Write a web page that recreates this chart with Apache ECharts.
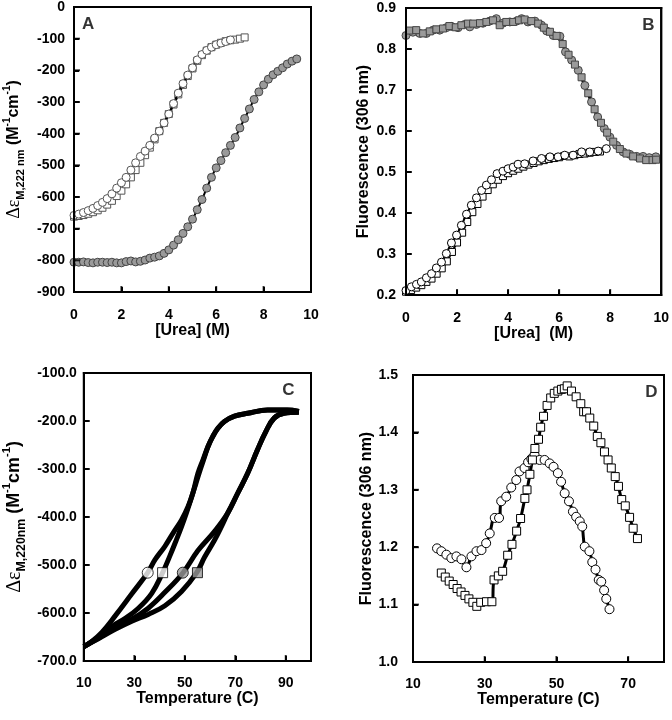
<!DOCTYPE html>
<html><head><meta charset="utf-8">
<script src="https://cdn.jsdelivr.net/npm/echarts@6/dist/echarts.min.js"></script>
<style>html,body{margin:0;padding:0;background:#fff}#c{width:672px;height:720px}</style>
</head><body><div id="c"></div>
<script>
// ---------- Panel A: CD vs urea ----------
const aOpenCircX = [0,0.2,0.4,0.6,0.8,1.0,1.2,1.4,1.6,1.8,2.0,2.2,2.4,2.6,2.8,3.0,3.2,3.4,3.6,3.8,4.0,4.2,4.4,4.6,4.8,5.0,5.2,5.4,5.6,5.8,6.0,6.2,6.4,6.6];
const aOpenCircY = [-658,-654,-649,-643,-636,-627,-617,-605,-590,-572,-555,-538,-515,-492,-472,-455,-437,-414,-392,-366,-338,-305,-272,-242,-215,-192,-167,-150,-137,-127,-119,-114,-109,-104];
const aOpenSqX = [0,0.2,0.4,0.6,0.8,1.0,1.2,1.4,1.6,1.8,2.0,2.2,2.4,2.6,2.8,3.0,3.2,3.4,3.6,3.8,4.0,4.2,4.4,4.6,4.8,5.0,5.2,5.4,5.6,5.8,6.0,6.2,6.4,6.6,6.8,7.0,7.2];
const aOpenSqY = [-662,-660,-657,-653,-648,-642,-634,-624,-612,-597,-580,-560,-538,-515,-492,-468,-444,-418,-392,-366,-338,-308,-276,-246,-218,-194,-170,-152,-138,-127,-119,-113,-108,-105,-103,-100,-96];
const aGrayX = [0,0.2,0.4,0.6,0.8,1.0,1.2,1.4,1.6,1.8,2.0,2.2,2.4,2.6,2.8,3.0,3.2,3.4,3.6,3.8,4.0,4.2,4.4,4.6,4.8,5.0,5.2,5.4,5.6,5.8,6.0,6.2,6.4,6.6,6.8,7.0,7.2,7.4,7.6,7.8,8.0,8.2,8.4,8.6,8.8,9.0,9.2,9.4];
const aGrayY = [-806,-806,-805,-807,-808,-806,-806,-807,-806,-808,-808,-804,-802,-805,-803,-799,-793,-790,-786,-778,-767,-752,-735,-715,-694,-670,-640,-608,-572,-538,-508,-485,-460,-437,-412,-382,-352,-322,-292,-268,-246,-228,-214,-203,-192,-180,-171,-164];

// ---------- Panel B: fluorescence vs urea ----------
const bGrayCircX = [0,0.27,0.54,0.8,1.06,1.32,1.58,1.78,2.04,2.3,2.5,2.76,3.02,3.28,3.54,3.8,4.07,4.33,4.53,4.78,5.05,5.31,5.51,5.77,6.03,6.25,6.49,6.75,7.01,7.27,7.51,7.77,7.99,8.25,8.51,8.77,9.04,9.29,9.53,9.79];
const bGrayCircY = [0.833,0.841,0.838,0.838,0.846,0.846,0.852,0.855,0.852,0.860,0.854,0.860,0.863,0.868,0.874,0.863,0.866,0.868,0.874,0.866,0.868,0.858,0.844,0.833,0.831,0.793,0.773,0.748,0.711,0.671,0.634,0.606,0.585,0.565,0.549,0.543,0.538,0.538,0.535,0.537];
const bGraySqX = [0.13,0.4,0.67,0.93,1.19,1.45,1.7,1.95,2.17,2.43,2.63,2.9,3.15,3.41,3.67,3.93,4.2,4.43,4.65,4.91,5.18,5.4,5.64,5.9,6.14,6.37,6.62,6.88,7.14,7.39,7.64,7.88,8.12,8.38,8.64,8.9,9.17,9.41,9.66,9.8];
const bGraySqY = [0.845,0.846,0.838,0.843,0.848,0.850,0.856,0.853,0.858,0.862,0.862,0.863,0.866,0.870,0.858,0.866,0.866,0.870,0.872,0.868,0.862,0.852,0.842,0.832,0.812,0.786,0.762,0.731,0.692,0.653,0.620,0.596,0.574,0.556,0.545,0.538,0.533,0.529,0.529,0.530];
const bOpenCircX = [0,0.21,0.41,0.6,0.8,1.0,1.19,1.39,1.58,1.78,1.98,2.17,2.37,2.56,2.76,2.96,3.15,3.35,3.57,3.8,4.0,4.2,4.39,4.65,4.98,5.31,5.64,5.96,6.22,6.55,6.88,7.2,7.53,7.85];
const bOpenCircY = [0.211,0.220,0.226,0.232,0.242,0.252,0.266,0.280,0.301,0.327,0.346,0.370,0.397,0.419,0.437,0.455,0.468,0.481,0.496,0.502,0.508,0.512,0.519,0.520,0.527,0.533,0.537,0.537,0.541,0.541,0.549,0.549,0.551,0.557];
const bOpenSqX = [0,0.2,0.4,0.6,0.8,1.0,1.2,1.4,1.6,1.8,2.0,2.2,2.4,2.6,2.8,3.0,3.2,3.4,3.6,3.8,4.0,4.2,4.4,4.6,4.8,5.0,5.2,5.4,5.6,5.8,6.0,6.2,6.4,6.6,6.8,7.0,7.2,7.4,7.6];
const bOpenSqY = [0.208,0.212,0.218,0.224,0.232,0.240,0.252,0.265,0.282,0.305,0.328,0.352,0.378,0.402,0.422,0.440,0.456,0.470,0.481,0.490,0.497,0.503,0.508,0.513,0.518,0.522,0.526,0.529,0.532,0.534,0.536,0.539,0.538,0.541,0.544,0.545,0.547,0.549,0.550];

// ---------- Panel C: CD thermal scans ----------
const cCurve1T = [10,13,17.2,22.4,29,35.3,38.2,42.1,45.4,48.7,51.3,53.2,55.2,57.2,59.2,61.1,63.1,65.7,69.7,74.9,82.8,90.6,95.2];
const cCurve1V = [-670,-660,-640,-606,-560,-516,-489,-461,-433,-406,-378,-350,-309,-281,-253,-232,-215,-201,-190,-184,-177,-177,-180];
const cCurve2T = [10,15.9,21.1,26.4,31.6,36.9,41.2,44,46.7,48.7,50.6,52.6,54.4,56.2,57.8,59.2,61.1,63.1,65.7,69.7,74.9,82.8,90.6,95.2];
const cCurve2V = [-670,-650,-628,-611,-590,-559,-516,-482,-447,-420,-392,-360,-330,-300,-275,-253,-232,-215,-201,-190,-184,-177,-177,-180];
const cCurve3T = [10,15.9,22.4,29,35.5,42.1,49.3,55.2,61.8,67,71,74.9,78.8,82.1,85.4,89.3,95.2];
const cCurve3V = [-670,-652,-630,-613,-590,-557,-516,-470,-430,-392,-350,-309,-260,-222,-194,-184,-182];
const cCurve4T = [10,15.9,22.4,29,35.5,42.1,48.7,54.7,57.8,61.8,64.5,67,71,74.9,78.8,82.1,85.4,89.3,95.2];
const cCurve4V = [-670,-653,-634,-617,-603,-585,-555,-516,-484,-448,-420,-392,-350,-309,-260,-222,-194,-184,-182];
const cMarkT = [35.3,41.2,49.2,55.0];
const cMarkV = [-516,-516,-516,-516];

// ---------- Panel D: fluorescence thermal scans ----------
const dCircT = [16.7,17.9,19.3,20.7,22.1,23.5,24.9,26.3,27.7,29.1,30.4,31.4,32.8,34.0,34.6,36.0,37.4,38.8,39.7,41.1,42.1,43.0,43.9,45.3,46.7,48.1,49.2,50.4,51.3,52.3,53.5,54.6,55.5,56.5,57.2,57.9,59.2,60.0,60.9,61.8,62.5,63.3,63.9,64.8];
const dCircV = [1.198,1.193,1.187,1.181,1.184,1.179,1.165,1.184,1.193,1.195,1.207,1.224,1.251,1.251,1.280,1.288,1.304,1.317,1.332,1.338,1.348,1.354,1.361,1.352,1.352,1.346,1.340,1.329,1.314,1.294,1.280,1.262,1.253,1.245,1.236,1.201,1.193,1.174,1.161,1.143,1.140,1.125,1.110,1.092];
const dSqT = [17.9,19.0,20.1,21.2,22.3,23.4,24.5,25.6,26.7,27.8,28.9,30.5,32.0,32.6,33.8,35.0,36.4,37.6,38.9,40.0,41.2,41.8,42.6,43.3,44.0,45.0,45.6,46.4,47.4,48.4,49.4,50.4,51.4,52.2,53.0,54.2,55.5,56.8,57.6,58.4,59.3,60.4,61.4,62.4,63.4,64.4,65.3,66.4,67.3,68.2,69.2,70.4,71.4,72.6];
const dSqV = [1.155,1.148,1.141,1.135,1.128,1.122,1.116,1.110,1.104,1.097,1.104,1.105,1.105,1.143,1.150,1.158,1.186,1.205,1.228,1.250,1.285,1.300,1.327,1.352,1.372,1.388,1.409,1.428,1.447,1.460,1.468,1.472,1.475,1.476,1.481,1.472,1.462,1.450,1.436,1.436,1.425,1.411,1.393,1.382,1.366,1.352,1.338,1.323,1.306,1.283,1.272,1.252,1.233,1.215];

// ---------- axis ranges (min, max, tick interval) ----------
const xRanges = [[0, 10, 2], [0, 10, 2], [10, 100, 20], [10, 80, 20]];
const yRanges = [[-900, 0, 100], [0.2, 0.9, 0.1], [-700, -100, 100], [1.0, 1.5, 0.1]];
const panelLetters = ['A', 'B', 'C', 'D'];

const zip = (xs, ys) => xs.map((x, i) => [x, ys[i]]);
const FONT = 'Liberation Sans';
const GRAY = '#9a9a9a';

const grids = [
  { left: 74, top: 6, width: 237, height: 286 },
  { left: 406, top: 8, width: 257, height: 287 },
  { left: 82, top: 373, width: 229, height: 288 },
  { left: 413, top: 375, width: 251, height: 287 }
].map(g => Object.assign({ show: true, borderColor: '#000', borderWidth: 2, backgroundColor: 'rgba(0,0,0,0)' }, g));

function axisBase(extra) {
  return Object.assign({
    type: 'value',
    axisLine: { show: true, onZero: false, lineStyle: { color: '#000', width: 2 } },
    axisTick: { show: true, inside: true, length: 5, lineStyle: { color: '#000', width: 2 } },
    splitLine: { show: false },
    nameTextStyle: { color: '#000', fontFamily: FONT, fontWeight: 'bold', fontSize: 16 }
  }, extra);
}
function lbl(fmt, margin, extra) {
  return Object.assign({ color: '#000', fontFamily: FONT, fontWeight: 'bold', fontSize: 14, margin: margin, formatter: fmt }, extra || {});
}
const f1 = v => Number(v).toFixed(1);
const f0 = v => String(Math.round(v));

function richY(scale) {
  return {
    d: { fontFamily: 'Liberation Serif', fontSize: 18 * scale, color: '#000', lineHeight: 24 * scale, verticalAlign: 'middle' },
    sub: { fontFamily: FONT, fontWeight: 'bold', fontSize: 11 * scale, color: '#000', lineHeight: 24 * scale, verticalAlign: 'bottom' },
    p: { fontFamily: FONT, fontWeight: 'bold', fontSize: 16 * scale, color: '#000', lineHeight: 24 * scale, verticalAlign: 'middle' },
    sup: { fontFamily: FONT, fontWeight: 'bold', fontSize: 10 * scale, color: '#000', lineHeight: 24 * scale, verticalAlign: 'top' }
  };
}

function symSeries(data, symbol, fill, border, size, lineW, gi, z) {
  return {
    type: 'line', data: data, xAxisIndex: gi, yAxisIndex: gi,
    smooth: 0.4, showSymbol: true, showAllSymbol: true, symbol: symbol, symbolSize: size,
    itemStyle: { color: fill, borderColor: border, borderWidth: 1 },
    lineStyle: { color: '#000', width: lineW }, z: z || 2, silent: true
  };
}
function curve(data) {
  return { type: 'line', data: data, xAxisIndex: 2, yAxisIndex: 2, smooth: 0.4, showSymbol: false,
    lineStyle: { color: '#000', width: 5 }, z: 2, silent: true };
}

// Frame box drawn by a custom series through each panel's own axes (api.coord)
function frameCustom(i) {
  const xr = xRanges[i], yr = yRanges[i];
  return {
    type: 'custom', xAxisIndex: i, yAxisIndex: i, silent: true, clip: false, z: 30,
    data: [[xr[0], yr[0], xr[1], yr[1]]],
    renderItem: function (params, api) {
      const p0 = api.coord([api.value(0), api.value(3)]);
      const p1 = api.coord([api.value(2), api.value(1)]);
      const w = p1[0] - p0[0], h = p1[1] - p0[1];
      return {
        type: 'group',
        children: [
          { type: 'rect', shape: { x: p0[0] - 1, y: p0[1] - 1, width: w + 2, height: 2 }, style: { fill: '#000' } },
          { type: 'rect', shape: { x: p0[0] - 1, y: p1[1] - 1, width: w + 2, height: 2 }, style: { fill: '#000' } },
          { type: 'rect', shape: { x: p0[0] - 1, y: p0[1] - 1, width: 2, height: h + 2 }, style: { fill: '#000' } },
          { type: 'rect', shape: { x: p1[0] - 1, y: p0[1] - 1, width: 2, height: h + 2 }, style: { fill: '#000' } }
        ]
      };
    }
  };
}

// Inward ticks as small bar symbols on each panel's axes
function tickSeries(i) {
  const xr = xRanges[i], yr = yRanges[i];
  const base = { type: 'scatter', xAxisIndex: i, yAxisIndex: i, silent: true, clip: false, z: 20,
    itemStyle: { color: '#000', borderWidth: 0 } };
  const xTicks = [], yTicks = [];
  const nx = Math.round((xr[1] - xr[0]) / xr[2]);
  for (let k = 1; k <= nx; k++) {
    const t = xr[0] + k * xr[2];
    if (t < xr[1] - 1e-9) xTicks.push([t, yr[0]]);
  }
  const ny = Math.round((yr[1] - yr[0]) / yr[2]);
  for (let k = 1; k < ny; k++) yTicks.push([xr[0], yr[0] + k * yr[2]]);
  return [
    Object.assign({}, base, { data: xTicks, symbol: 'rect', symbolSize: [2, 6], symbolOffset: [0, -3] }),
    Object.assign({}, base, { data: yTicks, symbol: 'rect', symbolSize: [6, 2], symbolOffset: [3, 0] })
  ];
}

const markSymbols = ['circle', 'rect', 'circle', 'rect'];
const markFills = ['#fff', '#fff', GRAY, GRAY];
const markSeries = cMarkT.map((t, i) => ({
  type: 'scatter', data: [[t, cMarkV[i]]], xAxisIndex: 2, yAxisIndex: 2,
  symbol: markSymbols[i], symbolSize: i % 2 ? 10 : 11,
  itemStyle: { color: markFills[i], borderColor: '#000', borderWidth: 1 }, z: 5, silent: true
}));

const letterPos = [[0.06, 0.94], [0.95, 0.94], [0.9, 0.94], [0.95, 0.94]];
const letterSeries = panelLetters.map((L, i) => {
  const xr = xRanges[i], yr = yRanges[i];
  return {
    type: 'scatter', xAxisIndex: i, yAxisIndex: i, symbolSize: 0, silent: true, z: 20,
    data: [[xr[0] + letterPos[i][0] * (xr[1] - xr[0]), yr[0] + letterPos[i][1] * (yr[1] - yr[0])]],
    label: { show: true, position: 'inside', formatter: L, color: '#000', fontFamily: FONT, fontWeight: 'bold', fontSize: 17 }
  };
});

const option = {
  animation: false,
  backgroundColor: '#fff',
  grid: grids,
  xAxis: [
    axisBase({ gridIndex: 0, min: xRanges[0][0], max: xRanges[0][1], interval: xRanges[0][2],
      axisLabel: lbl(f0, 16), name: '[Urea] (M)', nameLocation: 'middle', nameGap: 30 }),
    axisBase({ gridIndex: 1, min: xRanges[1][0], max: xRanges[1][1], interval: xRanges[1][2],
      axisLabel: lbl(f0, 16), name: '[Urea]  (M)', nameLocation: 'middle', nameGap: 30 }),
    axisBase({ gridIndex: 2, min: xRanges[2][0], max: xRanges[2][1], interval: xRanges[2][2],
      axisLabel: lbl(f0, 15, { showMaxLabel: false }), name: 'Temperature (C)', nameLocation: 'middle', nameGap: 30 }),
    axisBase({ gridIndex: 3, min: xRanges[3][0], max: xRanges[3][1], interval: xRanges[3][2],
      axisLabel: lbl(f0, 15, { showMaxLabel: false }), name: 'Temperature (C)', nameLocation: 'middle', nameGap: 30 })
  ],
  yAxis: [
    axisBase({ gridIndex: 0, min: yRanges[0][0], max: yRanges[0][1], interval: yRanges[0][2],
      axisLabel: lbl(f0, 9), name: '{d|Δε}{sub|M,222 nm}{p| (M}{sup|-1}{p|cm}{sup|-1}{p|)}',
      nameLocation: 'middle', nameRotate: 90, nameGap: 48, nameTextStyle: { rich: richY(1) } }),
    axisBase({ gridIndex: 1, min: yRanges[1][0], max: yRanges[1][1], interval: yRanges[1][2],
      axisLabel: lbl(f1, 10), name: 'Fluorescence (306 nm)', nameLocation: 'middle', nameRotate: 90, nameGap: 34 }),
    axisBase({ gridIndex: 2, min: yRanges[2][0], max: yRanges[2][1], interval: yRanges[2][2],
      axisLabel: lbl(f1, 7), name: '{d|Δε}{sub|M,220nm}{p| (M}{sup|-1}{p|cm}{sup|-1}{p|)}',
      nameLocation: 'middle', nameRotate: 90, nameGap: 56, nameTextStyle: { rich: richY(1.12) } }),
    axisBase({ gridIndex: 3, min: yRanges[3][0], max: yRanges[3][1], interval: yRanges[3][2],
      axisLabel: lbl(f1, 15), name: 'Fluorescence (306 nm)', nameLocation: 'middle', nameRotate: 90, nameGap: 38 })
  ],
  series: [
    // A
    symSeries(zip(aGrayX, aGrayY), 'circle', GRAY, '#444', 8, 2, 0),
    symSeries(zip(aOpenSqX, aOpenSqY), 'rect', '#fff', '#555', 7, 2.5, 0),
    symSeries(zip(aOpenCircX, aOpenCircY), 'circle', '#fff', '#555', 8, 2, 0, 3),
    // B
    symSeries(zip(bGrayCircX, bGrayCircY), 'circle', GRAY, '#444', 8, 3, 1),
    symSeries(zip(bGraySqX, bGraySqY), 'rect', GRAY, '#444', 7, 3, 1),
    symSeries(zip(bOpenSqX, bOpenSqY), 'rect', '#fff', '#000', 7, 2, 1),
    symSeries(zip(bOpenCircX, bOpenCircY), 'circle', '#fff', '#000', 8, 2, 1, 3),
    // C
    curve(zip(cCurve1T, cCurve1V)),
    curve(zip(cCurve2T, cCurve2V)),
    curve(zip(cCurve3T, cCurve3V)),
    curve(zip(cCurve4T, cCurve4V)),
    ...markSeries,
    // D
    symSeries(zip(dCircT, dCircV), 'circle', '#fff', '#000', 9, 3, 3),
    symSeries(zip(dSqT, dSqV), 'rect', '#fff', '#000', 8, 3, 3),
    // frames, ticks, letters
    frameCustom(0), frameCustom(1), frameCustom(2), frameCustom(3),
    ...tickSeries(0), ...tickSeries(1), ...tickSeries(2), ...tickSeries(3),
    ...letterSeries
  ]
};

const chart = echarts.init(document.getElementById('c'), null, { renderer: 'canvas' });
chart.setOption(option);
</script>
</body></html>
